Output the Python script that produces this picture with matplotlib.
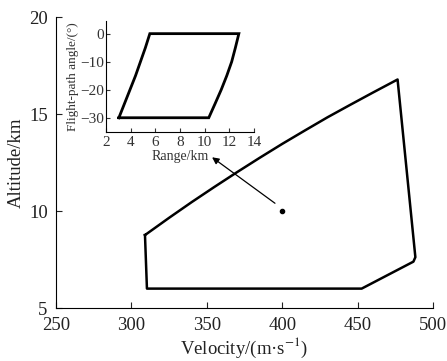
import numpy as np
import matplotlib.pyplot as plt

plt.rcParams['font.family'] = ['Liberation Serif', 'DejaVu Serif']
plt.rcParams['mathtext.fontset'] = 'stix'

# flight envelope: velocity (m/s) vs altitude (km)
vel = [309.0, 325, 340, 355, 370, 385, 400, 415, 430, 445, 460, 476.5,
       488.3, 487.0, 452.7, 310.3, 309.0]
alt = [8.76, 9.65, 10.46, 11.24, 12.00, 12.74, 13.46, 14.15, 14.83, 15.47, 16.10, 16.78,
       7.62, 7.39, 6.0, 6.0, 8.76]

# selected point and inset: range (km) vs flight-path angle (deg)
pt_v, pt_h = 400, 10
rng = [3.05, 3.5, 3.95, 4.4, 4.8, 5.2, 5.56, 12.78, 12.5, 12.2, 11.8, 11.35, 10.85, 10.34, 3.05]
gam = [-30, -25, -20, -15, -10, -5, 0, 0, -5, -10, -15, -20, -25, -30, -30]

fig = plt.figure(figsize=(4.47, 3.61), dpi=100)
ax = fig.add_axes([0.1253, 0.1468, 0.8434, 0.806])
ax.plot(vel, alt, color='black', lw=1.8, solid_joinstyle='round')
ax.plot(pt_v, pt_h, 'o', color='black', ms=3)
ax.annotate('', xy=(353.5, 12.77), xytext=(395.2, 10.4),
            arrowprops=dict(arrowstyle='-|>', color='black', lw=0.9,
                            mutation_scale=10, shrinkA=0, shrinkB=0))
ax.set_xlim(250, 500)
ax.set_ylim(5, 20)
ax.set_xticks([250, 300, 350, 400, 450, 500])
ax.set_yticks([5, 10, 15, 20])
ax.spines['top'].set_visible(False)
ax.spines['right'].set_visible(False)
ax.tick_params(direction='in', length=4, labelsize=13.5, colors='#222')
ax.tick_params(axis='x', pad=6.5)
ax.tick_params(axis='y', pad=6)
ax.set_xlabel('Velocity/(m·s$^{-1}$)', fontsize=13.5, color='#222', labelpad=1)
ax.set_ylabel('Altitude/km', fontsize=13.5, color='#222', labelpad=3)

ins = fig.add_axes([0.237, 0.635, 0.331, 0.3075])
ins.plot(rng, gam, color='black', lw=2, solid_joinstyle='miter')
ins.set_xlim(2, 14)
ins.set_ylim(-35, 4.6)
ins.set_xticks([2, 4, 6, 8, 10, 12, 14])
ins.set_yticks([0, -10, -20, -30])
ins.spines['top'].set_visible(False)
ins.spines['right'].set_visible(False)
ins.tick_params(direction='in', length=3, labelsize=11, colors='#333')
ins.tick_params(axis='x', pad=3)
ins.tick_params(axis='y', pad=1.5)
ins.set_xlabel('Range/km', fontsize=10, color='#333', labelpad=1)
ins.set_ylabel('Flight-path angle/(°)', fontsize=9.5, color='#333', labelpad=1)

fig.savefig('out.png', dpi=100)
